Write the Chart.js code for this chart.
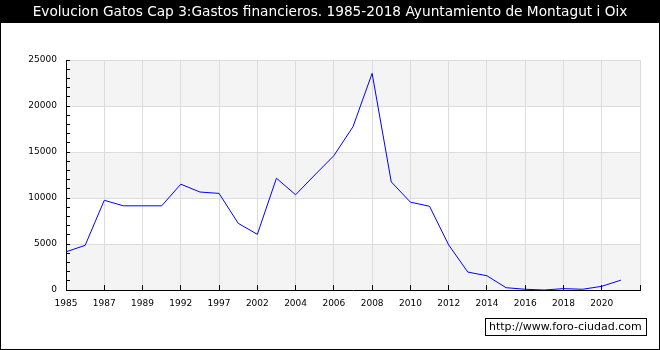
<!DOCTYPE html>
<html>
<head>
<meta charset="utf-8">
<title>Gastos financieros Montagut i Oix</title>
<script src="https://cdn.jsdelivr.net/npm/chart.js@4/dist/chart.umd.min.js"></script>
<style>
    body { margin: 0; background: #fff; }
    canvas { display: block; }
</style>
</head>
<body>
<canvas id="gastosChart" width="660" height="350"></canvas>
<script>
// Capitulo 3 (gastos financieros), euros por ejercicio
const years = [
    '1985', '1986', '1987', '1988', '1989', '1991', '1992', '1995', '1997', '2000',
    '2002', '2003', '2004', '2005', '2006', '2007', '2008', '2009', '2010', '2011',
    '2012', '2013', '2014', '2015', '2016', '2017', '2018', '2019', '2020', '2021',
    '2022'
];
const gastos = [
    4150, 4850, 9750, 9150, 9150, 9150, 11500, 10650, 10500, 7250,
    6050, 12150, 10350, 12500, 14600, 17750, 23550, 11750, 9550, 9100,
    4900, 1950, 1550, 250, 80, 0, 150, 80, 400, 1070
];
const yTicks = [0, 5000, 10000, 15000, 20000, 25000];

const TITLE = 'Evolucion Gatos Cap 3:Gastos financieros. 1985-2018 Ayuntamiento de Montagut i Oix';
const FONT = '"DejaVu Sans", Verdana, sans-serif';

// Title bar, striped plot background, outer frame and site label
const framePlugin = {
    id: 'frame',
    beforeDraw(chart) {
        const { ctx, chartArea: area, scales: { y } } = chart;
        ctx.save();
        ctx.fillStyle = '#fff';
        ctx.fillRect(0, 0, chart.width, chart.height);

        ctx.fillStyle = '#f4f4f4';
        for (let i = 0; i < yTicks.length - 1; i += 2) {
            const top = y.getPixelForValue(yTicks[i + 1]);
            const bottom = y.getPixelForValue(yTicks[i]);
            ctx.fillRect(area.left, top, area.right - area.left, bottom - top);
        }

        ctx.fillStyle = '#000';
        ctx.fillRect(0, 0, chart.width, 23);
        ctx.fillStyle = '#fff';
        ctx.font = '13.7px ' + FONT;
        ctx.textAlign = 'center';
        ctx.textBaseline = 'middle';
        ctx.fillText(TITLE, chart.width / 2, 12);
        ctx.restore();
    },
    afterDraw(chart) {
        const { ctx } = chart;
        ctx.save();
        ctx.strokeStyle = '#000';
        ctx.lineWidth = 1;
        ctx.strokeRect(0.5, 0.5, chart.width - 1, chart.height - 1);

        ctx.fillStyle = '#fff';
        ctx.fillRect(485.5, 318.5, 161, 17);
        ctx.strokeRect(485.5, 318.5, 161, 17);
        ctx.fillStyle = '#000';
        ctx.font = '11px ' + FONT;
        ctx.textAlign = 'left';
        ctx.textBaseline = 'middle';
        ctx.fillText('http://www.foro-ciudad.com', 489, 327.5);
        ctx.restore();
    }
};

const chart = new Chart(document.getElementById('gastosChart'), {
    type: 'line',
    data: {
        labels: years,
        datasets: [{
            data: gastos,
            borderColor: '#0000ff',
            borderWidth: 1,
            pointRadius: 0,
            tension: 0,
            fill: false
        }]
    },
    options: {
        responsive: false,
        animation: false,
        devicePixelRatio: 1,
        layout: {
            padding: { top: 60, right: 20, bottom: 0, left: 0 }
        },
        plugins: {
            legend: { display: false },
            title: { display: false },
            tooltip: { enabled: false }
        },
        scales: {
            x: {
                offset: false,
                afterFit: scale => { scale.height = 60; },
                border: { color: '#000', width: 1 },
                grid: {
                    tickLength: -5,
                    color: ctx => (ctx.index % 2 === 0 && ctx.index > 0) ? '#dcdcdc' : 'rgba(0,0,0,0)',
                    tickColor: ctx => ctx.index % 2 === 0 ? '#000' : 'rgba(0,0,0,0)'
                },
                ticks: {
                    autoSkip: false,
                    maxRotation: 0,
                    minRotation: 0,
                    padding: 13,
                    color: '#000',
                    font: { family: FONT, size: 9 },
                    callback: (value, index) => (index % 2 === 0 && index < gastos.length) ? years[index] : ''
                }
            },
            y: {
                min: 0,
                max: 25000,
                afterFit: scale => { scale.width = 66; },
                border: { color: '#000', width: 1 },
                grid: {
                    tickLength: -4,
                    color: ctx => (ctx.tick && ctx.tick.value > 0 && yTicks.includes(ctx.tick.value)) ? '#dcdcdc' : 'rgba(0,0,0,0)',
                    tickColor: '#000'
                },
                ticks: {
                    stepSize: 1000,
                    autoSkip: false,
                    padding: 13,
                    color: '#000',
                    font: { family: FONT, size: 9 },
                    callback: value => yTicks.includes(value) ? String(value) : ''
                }
            }
        }
    },
    plugins: [framePlugin]
});
</script>
</body>
</html>
